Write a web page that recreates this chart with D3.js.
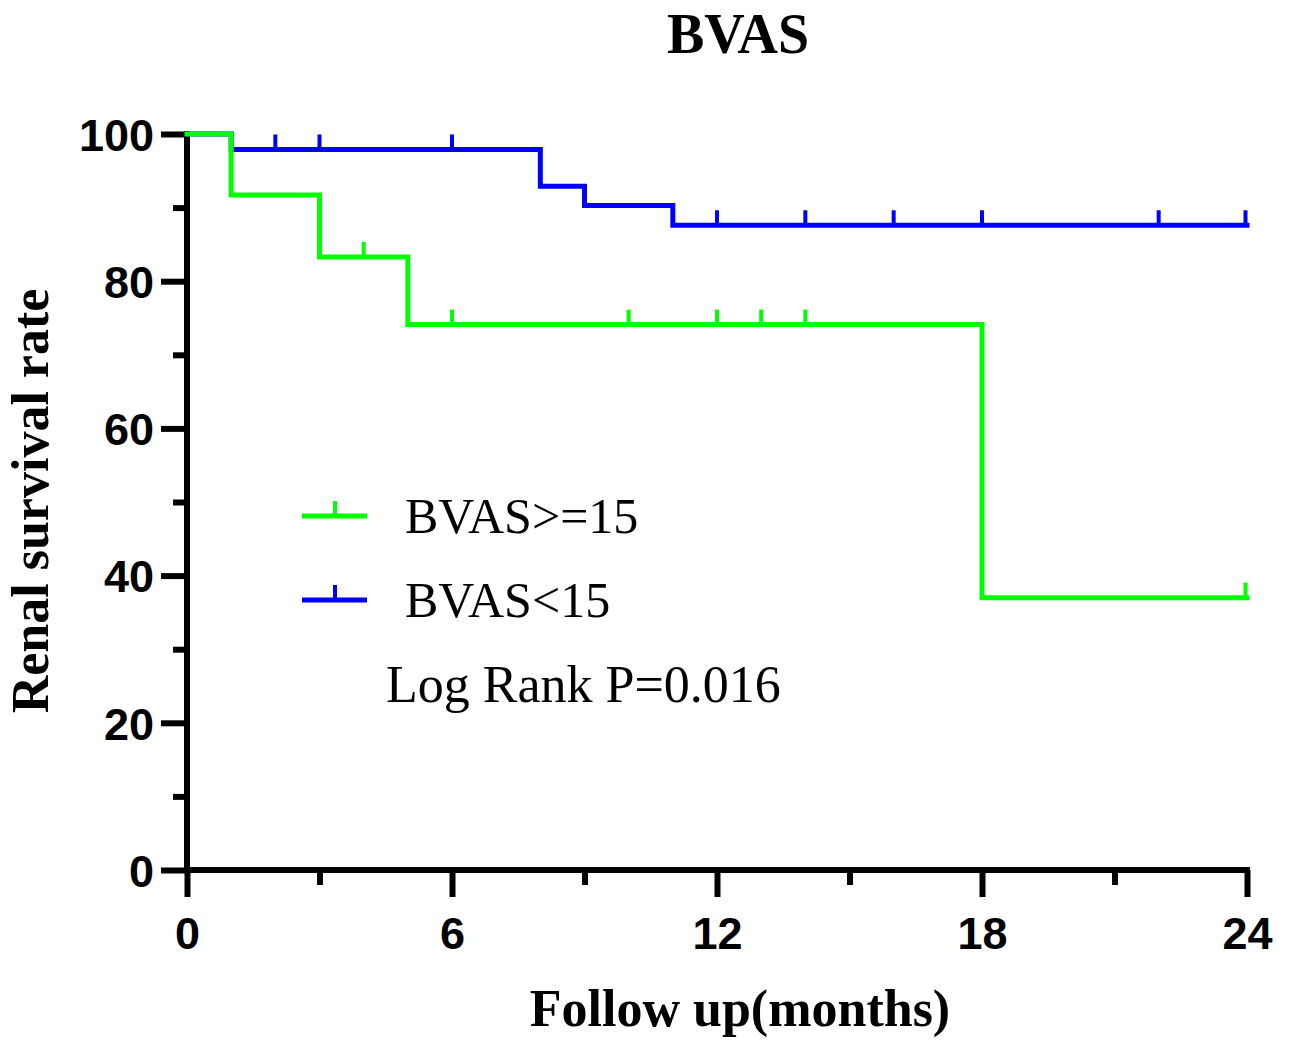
<!DOCTYPE html>
<html>
<head>
<meta charset="utf-8">
<script src="https://cdn.jsdelivr.net/npm/d3@7"></script>
<style>
  html, body { margin: 0; padding: 0; background: #fff; }
  svg { display: block; }
</style>
</head>
<body>
<svg id="chart" width="1290" height="1041"></svg>
<script>
// Kaplan–Meier step data (months, survival %)
const highTimes = [0, 1, 3, 5, 18, 24];
const highSurv  = [100, 91.7, 83.3, 74.1, 37.0, 37.0];
const highCensor = [4, 6, 10, 12, 13, 14, 24];

const lowTimes = [0, 1, 8, 9, 11, 24];
const lowSurv  = [100, 97.9, 92.9, 90.3, 87.6, 87.6];
const lowCensor = [2, 3, 6, 12, 14, 16, 18, 22, 24];

const seriesNames = ["BVAS>=15", "BVAS<15"];
const seriesColors = ["#00ff00", "#0000ff"];

const xMajorTicks = [0, 6, 12, 18, 24];
const xMinorTicks = [3, 9, 15, 21];
const yMajorTicks = [0, 20, 40, 60, 80, 100];
const yMinorTicks = [10, 30, 50, 70, 90];

const pValueText = "Log Rank P=0.016";

const svg = d3.select("#chart");
const x = d3.scaleLinear().domain([0, 24]).range([187, 1247]);
const y = d3.scaleLinear().domain([0, 100]).range([870, 134]);

const serif = "'Liberation Serif', 'Times New Roman', serif";
const sans = "'Liberation Sans', Arial, sans-serif";

// Title
svg.append("text")
  .attr("x", 738).attr("y", 53)
  .attr("text-anchor", "middle")
  .attr("font-family", serif).attr("font-weight", "bold")
  .attr("font-size", 56)
  .text("BVAS");

// Axes
const axisG = svg.append("g");
const xAxis = d3.axisBottom(x).tickValues(xMajorTicks).tickSize(27).tickPadding(20).tickFormat(d3.format("d"));
const xMinor = d3.axisBottom(x).tickValues(xMinorTicks).tickSize(15).tickFormat("");
const yAxis = d3.axisLeft(y).tickValues(yMajorTicks).tickSize(26).tickPadding(7).tickFormat(d3.format("d"));
const yMinor = d3.axisLeft(y).tickValues(yMinorTicks).tickSize(14).tickFormat("");

function styleAxis(g) {
  g.select(".domain").remove();
  g.selectAll("line").attr("stroke", "#000").attr("stroke-width", 6);
  g.selectAll("text")
    .attr("font-family", sans).attr("font-weight", "bold")
    .attr("font-size", 45).attr("fill", "#000");
}

axisG.append("g").attr("transform", `translate(0,${y(0)})`).call(xMinor).call(styleAxis);
axisG.append("g").attr("transform", `translate(0,${y(0)})`).call(xAxis).call(styleAxis)
  .selectAll("text").attr("dy", "0.71em");
axisG.append("g").attr("transform", `translate(${x(0)},0)`).call(yMinor).call(styleAxis);
axisG.append("g").attr("transform", `translate(${x(0)},0)`).call(yAxis).call(styleAxis)
  .selectAll("text").attr("dy", "0.36em");

// Axis lines
axisG.append("line")
  .attr("x1", x(0)).attr("x2", x(24) + 3)
  .attr("y1", y(0)).attr("y2", y(0))
  .attr("stroke", "#000").attr("stroke-width", 6);
axisG.append("line")
  .attr("x1", x(0)).attr("x2", x(0))
  .attr("y1", y(100) - 3).attr("y2", y(0))
  .attr("stroke", "#000").attr("stroke-width", 6);

// Axis titles
svg.append("text")
  .attr("x", 740).attr("y", 1026)
  .attr("text-anchor", "middle")
  .attr("font-family", serif).attr("font-weight", "bold")
  .attr("font-size", 52)
  .text("Follow up(months)");

svg.append("text")
  .attr("transform", "translate(48,501) rotate(-90)")
  .attr("text-anchor", "middle")
  .attr("font-family", serif).attr("font-weight", "bold")
  .attr("font-size", 52)
  .text("Renal survival rate");

// Curves
const line = d3.line()
  .x(d => x(d[0])).y(d => y(d[1]))
  .curve(d3.curveStepAfter);

function survAt(times, surv, t) {
  let s = surv[0];
  for (let i = 0; i < times.length; i++) if (times[i] <= t) s = surv[i];
  return s;
}

function drawCurve(times, surv, censor, color) {
  const g = svg.append("g");
  g.append("path")
    .datum(times.map((t, i) => [t, surv[i]]))
    .attr("d", line)
    .attr("fill", "none")
    .attr("stroke", color)
    .attr("stroke-width", 5)
    .attr("stroke-linejoin", "miter")
    .attr("stroke-linecap", "square");
  g.selectAll("line.censor")
    .data(censor)
    .join("line")
    .attr("class", "censor")
    .attr("x1", d => x(d) + (d === 24 ? -1.5 : 0))
    .attr("x2", d => x(d) + (d === 24 ? -1.5 : 0))
    .attr("y1", d => y(survAt(times, surv, d)))
    .attr("y2", d => y(survAt(times, surv, d)) - 15)
    .attr("stroke", color)
    .attr("stroke-width", 4);
}

drawCurve(lowTimes, lowSurv, lowCensor, seriesColors[1]);
drawCurve(highTimes, highSurv, highCensor, seriesColors[0]);

// Legend
const legendY = [516, 600];
seriesNames.forEach((name, i) => {
  const g = svg.append("g");
  g.append("line")
    .attr("x1", 302).attr("x2", 367)
    .attr("y1", legendY[i]).attr("y2", legendY[i])
    .attr("stroke", seriesColors[i]).attr("stroke-width", 5);
  g.append("line")
    .attr("x1", 335).attr("x2", 335)
    .attr("y1", legendY[i]).attr("y2", legendY[i] - 15)
    .attr("stroke", seriesColors[i]).attr("stroke-width", 4);
  g.append("text")
    .attr("x", 405).attr("y", legendY[i] + 17)
    .attr("font-family", serif)
    .attr("font-size", 50)
    .text(name);
});

svg.append("text")
  .attr("x", 386).attr("y", 702)
  .attr("font-family", serif)
  .attr("font-size", 52)
  .text(pValueText);
</script>
</body>
</html>
